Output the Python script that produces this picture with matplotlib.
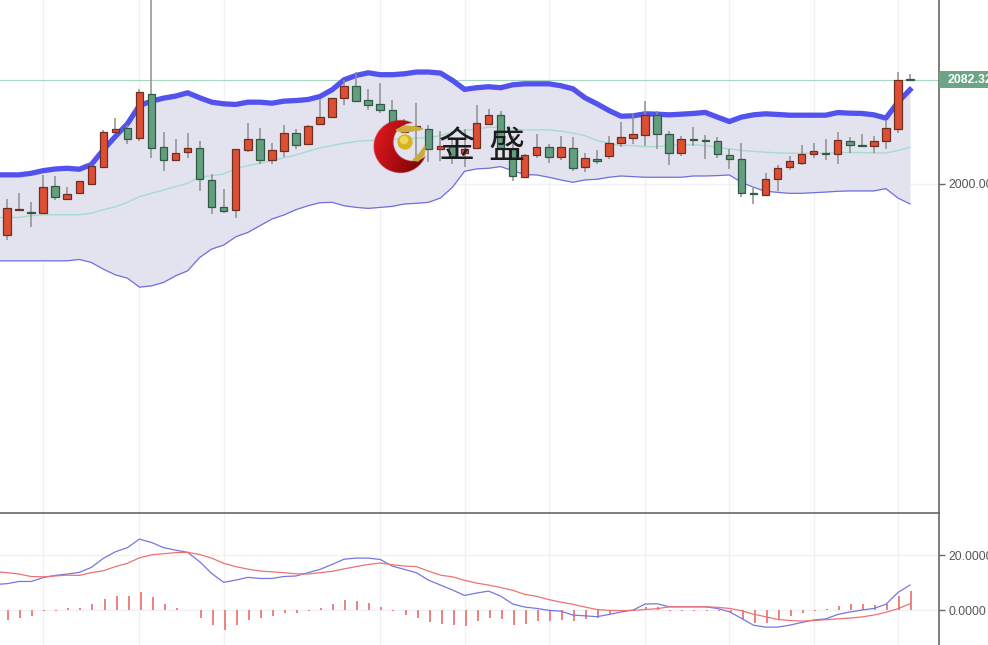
import numpy as np
import matplotlib
matplotlib.use('Agg')
import matplotlib.pyplot as plt
from matplotlib.patches import Rectangle, Polygon
from matplotlib.transforms import blended_transform_factory

opens = [1959.6, 1979.7, 1977.9, 1977.4, 1998.7, 1988.4, 1992.6, 2000.2, 2013.0, 2040.8,
         2044.3, 2036.4, 2071.2, 2029.0, 2018.7, 2025.3, 2028.2, 2003.2, 1981.8, 1979.2,
         2027.2, 2035.9, 2018.7, 2026.4, 2040.1, 2031.6, 2047.5, 2052.8, 2067.8, 2077.3,
         2066.5, 2062.8, 2058.8, 2040.9, 2043.3, 2043.5, 2028.0, 2030.3, 2024.3, 2028.2,
         2047.2, 2054.6, 2027.7, 2005.3, 2022.7, 2029.0, 2021.1, 2028.2, 2013.7, 2020.0,
         2021.9, 2032.2, 2036.4, 2039.0, 2054.3, 2039.6, 2024.8, 2035.9, 2035.1, 2034.0,
         2023.2, 2019.8, 1992.9, 1991.6, 2003.7, 2013.7, 2016.9, 2023.7, 2024.8, 2023.7,
         2034.3, 2030.6, 2030.3, 2034.0, 2043.3, 2082.8]
highs = [1988.1, 1992.9, 1985.5, 2007.2, 2006.4, 1997.9, 2002.5, 2015.3, 2042.7, 2052.2,
         2046.2, 2075.2, 2150.0, 2041.1, 2035.9, 2040.6, 2034.3, 2007.9, 1996.3, 2028.0,
         2048.0, 2044.3, 2032.7, 2046.9, 2043.5, 2046.2, 2067.3, 2068.1, 2081.8, 2088.1,
         2075.2, 2079.7, 2066.5, 2051.4, 2064.1, 2046.9, 2042.2, 2036.9, 2043.5, 2062.5,
         2059.3, 2058.0, 2038.2, 2023.7, 2039.6, 2031.6, 2037.7, 2037.2, 2024.8, 2026.9,
         2037.5, 2048.8, 2055.9, 2065.4, 2058.0, 2041.7, 2038.2, 2044.8, 2038.5, 2036.9,
         2028.0, 2032.2, 1996.8, 2008.4, 2015.0, 2022.4, 2030.9, 2032.2, 2035.3, 2041.1,
         2037.2, 2039.6, 2037.5, 2050.1, 2088.4, 2086.8]
lows = [1955.9, 1978.9, 1965.7, 1976.8, 1987.4, 1988.4, 1992.1, 2000.0, 2012.7, 2040.6,
        2031.6, 2034.3, 2020.3, 2010.3, 2018.7, 2020.3, 1994.7, 1976.2, 1977.3, 1973.1,
        2025.1, 2015.8, 2016.1, 2021.6, 2028.0, 2031.1, 2046.9, 2052.2, 2062.0, 2065.4,
        2058.6, 2055.9, 2046.2, 2040.9, 2021.6, 2017.1, 2018.5, 2015.8, 2013.2, 2027.7,
        2046.7, 2027.7, 2002.1, 2004.8, 2020.3, 2016.9, 2019.0, 2010.5, 2009.2, 2015.8,
        2019.5, 2029.5, 2031.6, 2030.1, 2027.7, 2015.0, 2022.4, 2030.1, 2020.0, 2020.3,
        2011.9, 1990.0, 1984.2, 1991.0, 1994.7, 2011.1, 2015.0, 2020.6, 2019.2, 2015.8,
        2024.8, 2029.5, 2024.8, 2027.7, 2040.1, 2082.0]
closes = [1981.3, 1980.2, 1977.4, 1997.9, 1989.5, 1992.1, 2002.0, 2014.0, 2040.8, 2043.5,
          2035.3, 2072.3, 2028.7, 2018.7, 2024.8, 2028.5, 2003.7, 1981.5, 1978.9, 2027.4,
          2035.9, 2018.7, 2026.6, 2040.1, 2030.6, 2045.9, 2052.8, 2068.1, 2077.3, 2065.4,
          2062.5, 2058.3, 2046.2, 2043.5, 2045.4, 2027.4, 2030.3, 2022.4, 2027.7, 2048.5,
          2054.6, 2028.5, 2006.1, 2023.2, 2029.0, 2021.1, 2029.0, 2012.7, 2020.3, 2018.2,
          2032.2, 2036.7, 2039.3, 2054.3, 2039.3, 2024.8, 2035.6, 2034.6, 2034.0, 2024.0,
          2019.8, 1992.9, 1991.8, 2003.7, 2012.9, 2018.2, 2024.0, 2025.8, 2024.0, 2035.1,
          2030.6, 2029.8, 2034.3, 2044.3, 2082.3, 2082.32]

# bands and macd lines start one bar left of the first candle
boll_up = [2007.2, 2007.2, 2007.2, 2008.4, 2010.5, 2011.8, 2012.4, 2011.6, 2015.3, 2026.9, 2037.5,
           2047.5, 2062.0, 2065.4, 2067.8, 2069.4, 2072.0, 2068.1, 2064.6, 2063.3, 2062.8,
           2064.6, 2064.6, 2063.8, 2065.4, 2065.9, 2066.7, 2069.1, 2074.4, 2082.3, 2085.7,
           2087.8, 2086.3, 2086.3, 2087.0, 2088.4, 2088.4, 2087.6, 2081.8, 2074.7, 2076.0,
           2076.8, 2076.0, 2078.3, 2079.1, 2079.1, 2079.1, 2077.6, 2075.2, 2068.1, 2063.3,
           2058.0, 2053.5, 2053.8, 2055.4, 2055.1, 2054.6, 2055.1, 2055.7, 2056.5, 2052.8,
           2049.3, 2052.8, 2054.6, 2055.4, 2054.9, 2054.3, 2054.3, 2054.3, 2054.3, 2056.4,
           2055.9, 2055.7, 2054.6, 2052.0, 2064.6, 2074.4]
boll_mid = [1973.6, 1973.6, 1973.6, 1974.9, 1975.5, 1975.7, 1975.7, 1975.7, 1976.8, 1979.7, 1982.0,
            1985.5, 1990.0, 1992.6, 1995.2, 1997.9, 2000.5, 2005.3, 2006.6, 2007.9, 2011.9,
            2014.5, 2016.3, 2018.5, 2020.6, 2022.9, 2025.8, 2028.5, 2030.3, 2032.2, 2033.5,
            2034.3, 2034.8, 2035.3, 2035.6, 2036.1, 2036.4, 2038.2, 2040.9, 2042.2, 2043.5,
            2044.8, 2044.8, 2043.5, 2042.7, 2042.7, 2042.7, 2041.7, 2040.1, 2038.2, 2034.3,
            2032.2, 2030.3, 2030.3, 2029.5, 2029.5, 2030.3, 2031.1, 2030.9, 2030.3, 2029.0,
            2027.7, 2026.4, 2025.8, 2025.1, 2024.5, 2024.3, 2024.3, 2024.3, 2024.3, 2024.8,
            2024.8, 2024.8, 2024.5, 2024.5, 2026.4, 2029.0]
boll_low = [1939.3, 1939.3, 1939.3, 1939.3, 1939.3, 1939.3, 1939.3, 1940.4, 1938.0, 1932.7, 1928.2,
            1925.6, 1918.5, 1919.5, 1922.2, 1927.4, 1931.4, 1941.9, 1948.6, 1951.7, 1958.3,
            1961.7, 1967.0, 1972.3, 1975.5, 1979.7, 1982.8, 1985.2, 1985.5, 1982.8, 1981.5,
            1980.7, 1981.5, 1982.3, 1984.2, 1984.7, 1985.5, 1988.9, 1997.4, 2010.0, 2011.9,
            2012.4, 2013.7, 2010.5, 2007.4, 2007.1, 2005.3, 2003.2, 2001.3, 2003.2, 2003.7,
            2005.3, 2006.3, 2005.8, 2005.3, 2005.3, 2005.3, 2005.3, 2006.3, 2006.3, 2006.6,
            2007.1, 2001.3, 1997.4, 1994.2, 1993.4, 1992.6, 1992.6, 1993.1, 1993.6, 1994.2,
            1994.5, 1994.5, 1994.5, 1996.3, 1988.9, 1984.2]

dif = [9.3, 9.6, 10.4, 10.4, 11.8, 12.6, 13.1, 13.7, 15.5, 18.8, 21.2, 22.7, 25.8, 24.6, 22.7,
       21.8, 21.0, 17.6, 13.3, 10.1, 10.9, 11.9, 11.5, 11.5, 12.2, 12.4, 13.6, 14.8, 16.6,
       18.5, 18.9, 18.9, 18.4, 16.0, 14.8, 13.6, 10.9, 9.1, 7.3, 5.3, 6.2, 6.9, 5.1, 2.2, 1.1,
       0.6, -0.1, -0.4, -1.8, -2.1, -2.4, -1.6, -0.7, 0.0, 2.2, 2.3, 1.2, 1.2, 1.2, 1.2, 0.6,
       -0.6, -3.0, -5.5, -6.2, -6.2, -5.5, -4.5, -3.6, -3.2, -1.6, -0.7, 0.0, 0.6, 2.1, 6.4, 9.1]
dea = [14.0, 13.6, 13.1, 12.2, 12.1, 12.4, 12.7, 12.6, 13.6, 14.3, 15.8, 17.0, 19.0, 20.1, 20.5,
       20.9, 21.0, 20.2, 18.9, 17.0, 15.8, 14.9, 14.2, 13.9, 13.6, 13.2, 13.1, 13.6, 14.1,
       15.0, 15.8, 16.6, 17.1, 16.5, 16.0, 15.8, 14.2, 12.7, 12.1, 10.8, 9.8, 9.1, 8.2, 7.2,
       5.7, 5.0, 3.8, 2.9, 2.1, 1.1, 0.2, -0.1, -0.2, -0.1, 0.2, 0.5, 1.2, 1.2, 1.2, 1.2, 1.0,
       0.6, -0.2, -1.5, -2.4, -3.4, -3.8, -4.0, -3.8, -3.5, -3.2, -2.9, -2.5, -1.8, -0.8, 0.5, 2.3]
hist = [-3.6, -2.7, -2.2, -0.4, -0.2, 0.6, 0.7, 2.1, 3.9, 5.1, 5.1, 6.5, 4.6, 2.1, 0.7, 0.0,
        -2.7, -5.3, -7.3, -5.3, -3.5, -3.0, -2.2, -1.1, -1.1, -0.2, 0.7, 2.1, 3.5, 3.2, 2.4,
        1.3, -0.2, -1.9, -2.7, -4.2, -5.0, -5.3, -5.7, -4.1, -2.7, -3.4, -5.3, -5.0, -4.1,
        -4.1, -3.5, -3.8, -3.4, -2.8, -1.5, -0.8, -0.2, 1.3, 1.3, -0.4, -0.4, -0.4, -0.2, -0.2,
        -0.6, -3.4, -4.6, -4.6, -3.4, -2.2, -1.1, -0.2, 0.5, 1.5, 2.1, 2.1, 1.9, 2.1, 5.3, 6.9]

grid_bars = [3, 11, 18, 31, 38, 45, 53, 60, 67, 74]
last_price = 2082.32

plt.rcParams['font.family'] = ['Liberation Sans', 'DejaVu Sans']

W, H = 988, 645
fig = plt.figure(figsize=(W / 100, H / 100), dpi=100)
ax = fig.add_axes([0, (H - 513) / H, 939 / W, 513 / H])
ax2 = fig.add_axes([0, 0, 939 / W, (H - 513) / H])

xlim = (-0.581, 77.41)
n = len(opens)
xs = np.arange(n)
xl = np.arange(-1, n)

for a in (ax, ax2):
    a.set_xlim(*xlim)
    a.set_xticks([])
    a.spines['left'].set_visible(False)
    a.spines['bottom'].set_visible(False)
    a.spines['top'].set_visible(False)
    a.spines['right'].set_color('#666666')
    a.spines['right'].set_linewidth(1.2)
    a.yaxis.tick_right()
    a.tick_params(axis='y', length=4, width=1, color='#666666', labelcolor='#555555',
                  labelsize=8.7, pad=2.5)
    for g in grid_bars:
        a.axvline(g, color='#f0f0f5', lw=1, zorder=0)

# main chart
ax.set_ylim(1740.1, 2145.3)
ax.set_yticks([2000])
ax.set_yticklabels(['2000.00'])
ax.axhline(2000, color='#f0f0f5', lw=1, zorder=0)
ax.axhline(last_price, color='#a9d6bf', lw=0.8, zorder=1)

ax.fill_between(xl, boll_low, boll_up, color='#e3e3f0', lw=0, zorder=1)
ax.plot(xl, boll_mid, color='#a6dccb', lw=1, zorder=2)
ax.plot(xl, boll_low, color='#6f6fe0', lw=0.9, zorder=2)
ax.plot(xl, boll_up, color='#5252ee', lw=3.8, zorder=2, solid_joinstyle='round')

for i in range(n):
    up = closes[i] >= opens[i]
    ax.vlines(i, lows[i], highs[i], color='#8f8f8f', lw=1.1, zorder=3)
    ax.bar(i, abs(closes[i] - opens[i]), bottom=min(opens[i], closes[i]), width=0.62,
           color='#dc4f33' if up else '#639f7e',
           edgecolor='#6e2f22' if up else '#2f5a45', lw=0.9, zorder=4)

# price tag on the right axis
tr = blended_transform_factory(ax.transAxes, ax.transData)
ax.add_patch(Rectangle((1.0, last_price - 6.7), 0.06, 13.4, transform=tr, color='#6ba585',
                       clip_on=False, zorder=5, lw=0))
ax.text(1.0096, last_price, '2082.32', transform=tr, color='white', fontsize=8.9, weight='bold',
        va='center', ha='left', clip_on=False, zorder=6)

# macd
ax2.set_ylim(-12.7, 35.3)
ax2.set_yticks([0, 20])
ax2.set_yticklabels(['0.0000', '20.0000'])
ax2.spines['top'].set_visible(True)
ax2.spines['top'].set_color('#666666')
ax2.spines['top'].set_linewidth(1.2)
ax2.axhline(20, color='#f0f0f5', lw=1, zorder=0)
ax2.axhline(0, color='#f0f0f5', lw=1, zorder=0)
ax2.vlines(xs + 0.1, 0, hist, color='#ee8080', lw=1.4, zorder=2)
ax2.plot(xl, dif, color='#7676e2', lw=0.9, zorder=3)
ax2.plot(xl, dea, color='#ef7272', lw=0.9, zorder=3)

# watermark logo, in pixel coordinates
ov = fig.add_axes([0, 0, 1, 1], facecolor='none')
ov.axis('off')


def crescent():
    gx, gy = np.meshgrid(np.linspace(370, 432, 186), np.linspace(116, 178, 186))
    d_out = np.hypot(gx - 400, gy - 146.5) - 26.5
    d_in = np.hypot(gx - 412, gy - 142) - 19
    alpha = np.clip(0.5 - d_out, 0, 1) * np.clip(0.5 + d_in, 0, 1)
    shade = np.clip((gx - 374 + (gy - 120) * 0.3) / 55, 0, 1)
    img = np.zeros(gx.shape + (4,))
    img[..., 0] = 0.90 - 0.38 * shade
    img[..., 1] = 0.10 - 0.08 * shade
    img[..., 2] = 0.13 - 0.10 * shade
    img[..., 3] = alpha
    return img


ov.imshow(crescent(), extent=(370, 432, 178, 116), zorder=1, aspect='auto')
ov.set_xlim(0, W)
ov.set_ylim(H, 0)
ov.add_patch(plt.Circle((405, 142), 7, color='#d8b520', zorder=2))
ov.add_patch(plt.Circle((404, 140), 3.5, color='#efd75a', zorder=3))
ov.add_patch(Polygon([(396, 130), (405, 126), (416, 127), (423, 129), (412, 131), (402, 132)],
                     color='#c9ac3a', zorder=2))
ov.add_patch(Polygon([(413, 160), (420, 153), (425, 146), (424, 155), (418, 161)],
                     color='#c9ac3a', zorder=2))
ov.text(457, 147, '金', family=['Noto Sans CJK SC', 'DejaVu Sans'], fontsize=26, color='#1c1c1c',
        ha='center', va='center', zorder=4)
ov.text(506.5, 147, '盛', family=['Noto Sans CJK SC', 'DejaVu Sans'], fontsize=26, color='#1c1c1c',
        ha='center', va='center', zorder=4)

fig.savefig('out.png', dpi=100)
